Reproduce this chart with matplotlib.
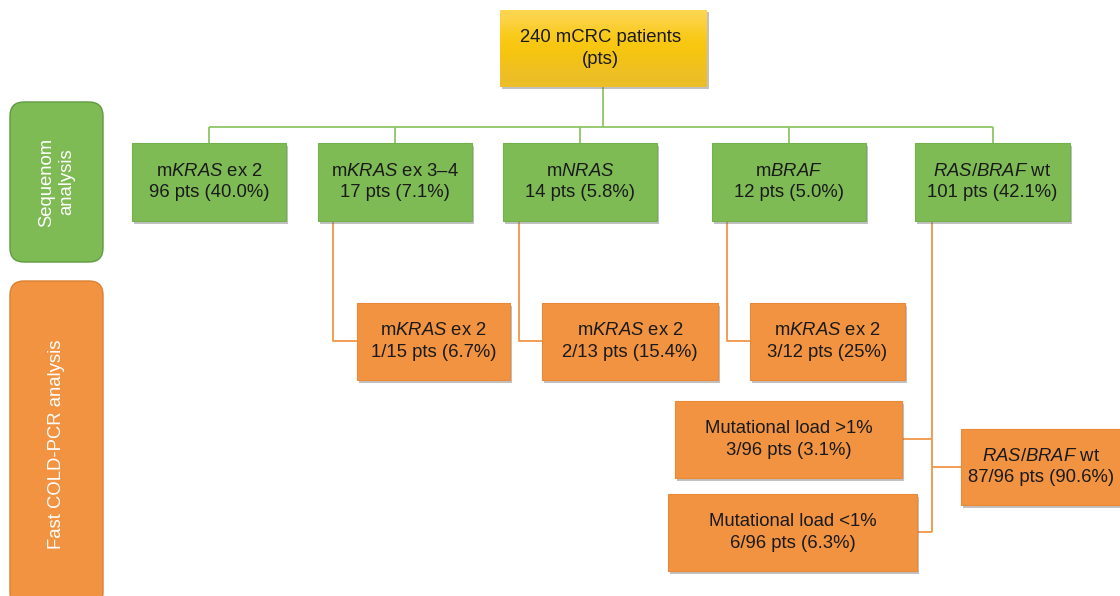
import matplotlib.pyplot as plt
from matplotlib.patches import Rectangle, FancyBboxPatch
import matplotlib.patheffects as pe
import numpy as np

plt.rcParams['font.family'] = ['Liberation Sans', 'DejaVu Sans']
plt.rcParams['mathtext.fontset'] = 'custom'
plt.rcParams['mathtext.rm'] = 'Liberation Sans'
plt.rcParams['mathtext.it'] = 'Liberation Sans:italic'

# texts of the flowchart
top_label = "240 mCRC patients\n(pts)"
seq_labels = ["m$\\mathit{KRAS}$ ex 2\n96 pts (40.0%)",
              "m$\\mathit{KRAS}$ ex 3\u20134\n17 pts (7.1%)",
              "m$\\mathit{NRAS}$\n14 pts (5.8%)",
              "m$\\mathit{BRAF}$\n12 pts (5.0%)",
              "$\\mathit{RAS}$/$\\mathit{BRAF}$ wt\n101 pts (42.1%)"]
cold_labels = ["m$\\mathit{KRAS}$ ex 2\n1/15 pts (6.7%)",
               "m$\\mathit{KRAS}$ ex 2\n2/13 pts (15.4%)",
               "m$\\mathit{KRAS}$ ex 2\n3/12 pts (25%)"]
load_labels = ["Mutational load >1%\n3/96 pts (3.1%)",
               "Mutational load <1%\n6/96 pts (6.3%)"]
wt_label = "$\\mathit{RAS}$/$\\mathit{BRAF}$ wt\n87/96 pts (90.6%)"
side_labels = ["Sequenom\nanalysis", "Fast COLD-PCR analysis"]

GREEN = '#7EBB55'
GREEN_EDGE = '#74B04C'
GREEN_LINE = '#8DC665'
ORANGE = '#F29341'
ORANGE_EDGE = '#E88A38'
ORANGE_LINE = '#F0954A'
TXT = '#1a1a1a'
FS = 13.3

fig = plt.figure(figsize=(11.2, 5.96), dpi=100)
ax = fig.add_axes([0, 0, 1, 1])
ax.set_xlim(0, 1120)
ax.set_ylim(596, 0)
ax.axis('off')

shadow = [pe.SimplePatchShadow(offset=(1.2, -2), shadow_rgbFace='#666666', alpha=0.4), pe.Normal()]


def box(x0, y0, x1, y1, label, fc, ec):
    r = Rectangle((x0, y0), x1 - x0, y1 - y0, fc=fc, ec=ec, lw=0.8, zorder=3)
    r.set_path_effects(shadow)
    ax.add_patch(r)
    ax.text((x0 + x1) / 2, (y0 + y1) / 2, label, ha='center', va='center',
            fontsize=FS, color=TXT, linespacing=1.32, zorder=4)


def line(xs, ys, c):
    ax.plot(xs, ys, color=c, lw=1.3, zorder=2, solid_capstyle='butt')


# side labels
side = [(102, 262, GREEN, '#5F9A3E', 182), (281, 606, ORANGE, '#D97F30', 444)]
for (y0, y1, fc, ec, yt), lab in zip(side, side_labels):
    p = FancyBboxPatch((10, y0), 93, y1 - y0, boxstyle='round,pad=0,rounding_size=14',
                       fc=fc, ec=ec, lw=1.0, zorder=3)
    ax.add_patch(p)
    ax.text(56.5, yt, lab, rotation=90, ha='center',
            va='center', fontsize=FS, color='white', linespacing=1.2, zorder=4)

# top box with gradient
tx0, ty0, tx1, ty1 = 500, 10, 707, 87
sh = Rectangle((tx0 + 1.5, ty0 + 2), tx1 - tx0, ty1 - ty0, fc='#666666', alpha=0.4, ec='none', zorder=2.5)
ax.add_patch(sh)
cols = np.array([[253, 213, 80], [249, 203, 30], [247, 198, 10], [241, 194, 30], [236, 190, 40]]) / 255.
img = cols[:, None, :]
ax.imshow(img, extent=(tx0, tx1, ty1, ty0), aspect='auto', interpolation='bicubic', zorder=3)
ax.text((tx0 + tx1) / 2 - 3, (ty0 + ty1) / 2, top_label, ha='center', va='center',
        fontsize=FS, color=TXT, linespacing=1.45, zorder=4)

# sequenom row
seq_x = [(132, 286), (318, 472), (503, 657), (712, 866), (915, 1070)]
sy0, sy1 = 143, 221
line([603, 603], [ty1, 127], GREEN_LINE)
centers = [(a + b) / 2 for a, b in seq_x]
line([centers[0], centers[-1]], [127, 127], GREEN_LINE)
for (a, b), lab, c in zip(seq_x, seq_labels, centers):
    line([c, c], [127, sy0], GREEN_LINE)
    box(a, sy0, b, sy1, lab, GREEN, GREEN_EDGE)

# cold-pcr on mutated groups
cold_x = [(357, 510), (542, 718), (750, 905)]
drop_x = [333, 519, 727]
cy0, cy1 = 303, 380
for (a, b), lab, dx in zip(cold_x, cold_labels, drop_x):
    line([dx, dx, a], [sy1, 341, 341], ORANGE_LINE)
    box(a, cy0, b, cy1, lab, ORANGE, ORANGE_EDGE)

# wt branch
vx = 932
line([vx, vx], [sy1, 532], ORANGE_LINE)
load_boxes = [(675, 401, 902, 478, 439), (668, 494, 917, 571, 532)]
for (a, y0, b, y1, yc), lab in zip(load_boxes, load_labels):
    line([b, vx], [yc, yc], ORANGE_LINE)
    box(a, y0, b, y1, lab, ORANGE, ORANGE_EDGE)
line([vx, 961], [467, 467], ORANGE_LINE)
box(961, 429, 1122, 505, wt_label, ORANGE, ORANGE_EDGE)

fig.savefig('out.png', dpi=100)
